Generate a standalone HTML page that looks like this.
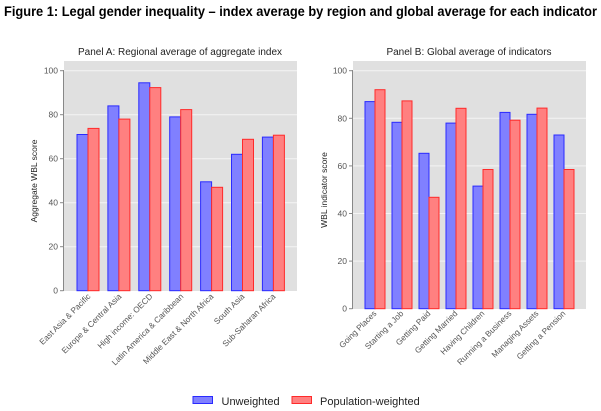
<!DOCTYPE html>
<html><head><meta charset="utf-8"><style>
html,body{margin:0;padding:0;background:#fff;}
svg{display:block;font-family:"Liberation Sans",Arial,sans-serif;}
.t{fill:#555;font-size:8.5px;}
.l{fill:#555;font-size:8.2px;}
.g{stroke:#f4f4f4;stroke-width:1;}
.b{fill:#8080ff;stroke:#2a2aff;stroke-width:1;}
.r{fill:#ff8080;stroke:#ff2a2a;stroke-width:1;}
</style></head><body>
<svg width="601" height="411" viewBox="0 0 601 411" xmlns="http://www.w3.org/2000/svg">
<text x="4" y="16" font-size="14" font-weight="bold" fill="#000" textLength="593" lengthAdjust="spacingAndGlyphs">Figure 1: Legal gender inequality – index average by region and global average for each indicator</text>

<!-- Panel A -->
<text x="180" y="55" font-size="10" text-anchor="middle" fill="#222">Panel A: Regional average of aggregate index</text>
<rect x="64" y="61" width="233" height="230" fill="#e0e0e0"/>
<g class="g">
<line x1="64" x2="297" y1="70.7" y2="70.7"/><line x1="64" x2="297" y1="114.7" y2="114.7"/>
<line x1="64" x2="297" y1="158.7" y2="158.7"/><line x1="64" x2="297" y1="202.7" y2="202.7"/>
<line x1="64" x2="297" y1="246.7" y2="246.7"/>
</g>
<line x1="63.5" x2="63.5" y1="70" y2="291" stroke="#888"/>
<g stroke="#888"><line x1="60" x2="63.5" y1="70.7" y2="70.7"/><line x1="60" x2="63.5" y1="114.7" y2="114.7"/><line x1="60" x2="63.5" y1="158.7" y2="158.7"/><line x1="60" x2="63.5" y1="202.7" y2="202.7"/><line x1="60" x2="63.5" y1="246.7" y2="246.7"/><line x1="60" x2="63.5" y1="290.7" y2="290.7"/></g>
<g class="t" text-anchor="end">
<text x="58" y="73.7">100</text><text x="58" y="117.7">80</text><text x="58" y="161.7">60</text><text x="58" y="205.7">40</text><text x="58" y="249.7">20</text><text x="58" y="293.7">0</text>
</g>
<text transform="translate(37,181) rotate(-90)" font-size="8.5" text-anchor="middle" fill="#222">Aggregate WBL score</text>
<g id="barsA"></g>
<g>
<rect class="b" x="77" y="134.5" width="11" height="156.2"/><rect class="r" x="88" y="128.4" width="11" height="162.3"/>
<rect class="b" x="107.9" y="105.9" width="11" height="184.8"/><rect class="r" x="118.9" y="119.1" width="11" height="171.6"/>
<rect class="b" x="138.8" y="82.8" width="11" height="207.9"/><rect class="r" x="149.8" y="87.6" width="11" height="203.1"/>
<rect class="b" x="169.7" y="116.9" width="11" height="173.8"/><rect class="r" x="180.7" y="109.6" width="11" height="181.1"/>
<rect class="b" x="200.6" y="181.8" width="11" height="108.9"/><rect class="r" x="211.6" y="187.3" width="11" height="103.4"/>
<rect class="b" x="231.5" y="154.3" width="11" height="136.4"/><rect class="r" x="242.5" y="139.3" width="11" height="151.4"/>
<rect class="b" x="262.4" y="137.1" width="11" height="153.6"/><rect class="r" x="273.4" y="135.2" width="11" height="155.5"/>
</g>
<g class="l" text-anchor="end">
<text transform="translate(91,297) rotate(-45)">East Asia &amp; Pacific</text>
<text transform="translate(122,297) rotate(-45)">Europe &amp; Central Asia</text>
<text transform="translate(153,297) rotate(-45)">High income: OECD</text>
<text transform="translate(184,297) rotate(-45)">Latin America &amp; Caribbean</text>
<text transform="translate(214,297) rotate(-45)">Middle East &amp; North Africa</text>
<text transform="translate(245,297) rotate(-45)">South Asia</text>
<text transform="translate(276,297) rotate(-45)">Sub-Saharan Africa</text>
</g>

<!-- Panel B -->
<text x="469" y="55" font-size="10" text-anchor="middle" fill="#222">Panel B: Global average of indicators</text>
<rect x="353" y="61" width="233" height="248" fill="#e0e0e0"/>
<g class="g">
<line x1="353" x2="586" y1="70.7" y2="70.7"/><line x1="353" x2="586" y1="118.3" y2="118.3"/>
<line x1="353" x2="586" y1="165.9" y2="165.9"/><line x1="353" x2="586" y1="213.5" y2="213.5"/>
<line x1="353" x2="586" y1="261.1" y2="261.1"/>
</g>
<line x1="352.5" x2="352.5" y1="70" y2="309" stroke="#888"/>
<g stroke="#888"><line x1="349" x2="352.5" y1="70.7" y2="70.7"/><line x1="349" x2="352.5" y1="118.3" y2="118.3"/><line x1="349" x2="352.5" y1="165.9" y2="165.9"/><line x1="349" x2="352.5" y1="213.5" y2="213.5"/><line x1="349" x2="352.5" y1="261.1" y2="261.1"/><line x1="349" x2="352.5" y1="308.7" y2="308.7"/></g>
<g class="t" text-anchor="end">
<text x="347" y="73.7">100</text><text x="347" y="121.3">80</text><text x="347" y="168.9">60</text><text x="347" y="216.5">40</text><text x="347" y="264.1">20</text><text x="347" y="311.7">0</text>
</g>
<text transform="translate(327,190) rotate(-90)" font-size="8.5" text-anchor="middle" fill="#222">WBL indicator score</text>
<g>
<rect class="b" x="365" y="101.6" width="10" height="207.1"/><rect class="r" x="375" y="89.7" width="10" height="219"/>
<rect class="b" x="392" y="122.3" width="10" height="186.4"/><rect class="r" x="402" y="100.9" width="10" height="207.8"/>
<rect class="b" x="419" y="153.3" width="10" height="155.4"/><rect class="r" x="429" y="197.3" width="10" height="111.4"/>
<rect class="b" x="446" y="123.1" width="10" height="185.6"/><rect class="r" x="456" y="108.3" width="10" height="200.4"/>
<rect class="b" x="473" y="186.1" width="10" height="122.6"/><rect class="r" x="483" y="169.5" width="10" height="139.2"/>
<rect class="b" x="500" y="112.4" width="10" height="196.3"/><rect class="r" x="510" y="120.2" width="10" height="188.5"/>
<rect class="b" x="527" y="114.3" width="10" height="194.4"/><rect class="r" x="537" y="108.1" width="10" height="200.6"/>
<rect class="b" x="554" y="135" width="10" height="173.7"/><rect class="r" x="564" y="169.5" width="10" height="139.2"/>
</g>
<g class="l" text-anchor="end">
<text transform="translate(377,314) rotate(-45)">Going Places</text>
<text transform="translate(404,314) rotate(-45)">Starting a Job</text>
<text transform="translate(431,314) rotate(-45)">Getting Paid</text>
<text transform="translate(458,314) rotate(-45)">Getting Married</text>
<text transform="translate(485,314) rotate(-45)">Having Children</text>
<text transform="translate(512,314) rotate(-45)">Running a Business</text>
<text transform="translate(539,314) rotate(-45)">Managing Assets</text>
<text transform="translate(566,314) rotate(-45)">Getting a Pension</text>
</g>

<!-- Legend -->
<rect class="b" x="193" y="396.5" width="19.5" height="7"/>
<text x="221.5" y="405" font-size="11" fill="#222">Unweighted</text>
<rect class="r" x="292" y="396.5" width="19.5" height="7"/>
<text x="320" y="405" font-size="11" fill="#222">Population-weighted</text>
</svg>
</body></html>
